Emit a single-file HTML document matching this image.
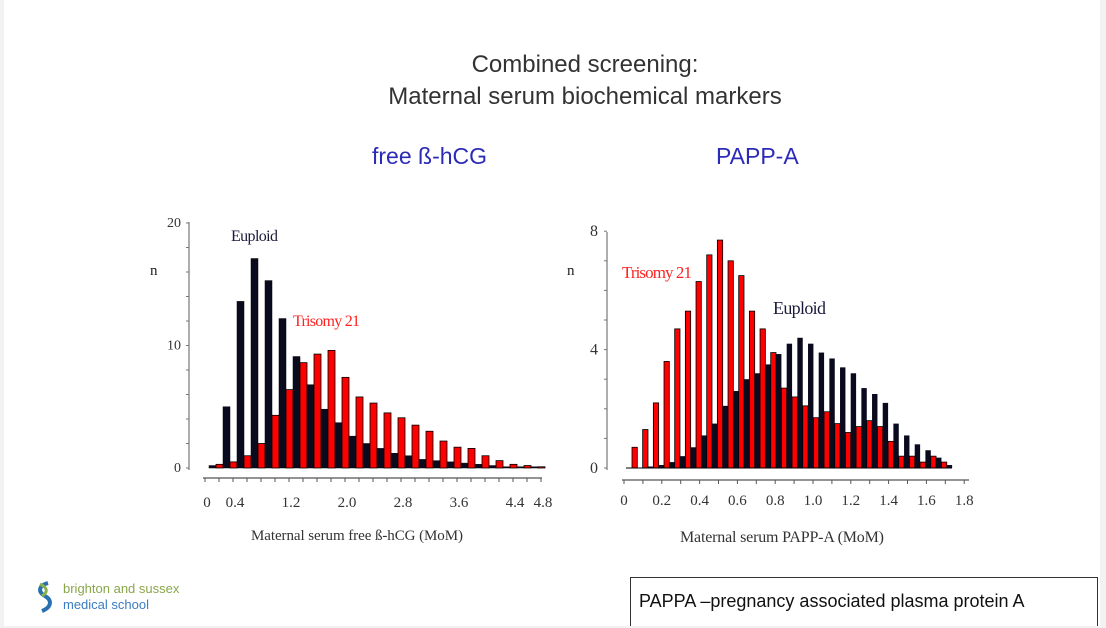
<!DOCTYPE html>
<html><head><meta charset="utf-8"><style>
html,body{margin:0;padding:0;background:#f2f2f2;}
#slide{position:absolute;left:4px;top:0;width:1096px;height:626px;background:#fff;overflow:hidden;font-family:"Liberation Sans",sans-serif;}
.t{position:absolute;white-space:nowrap;}
</style></head><body>
<div id="slide">
<div class="t" style="left:0;width:1162px;top:49px;text-align:center;font-size:24px;line-height:32px;color:#333;">Combined screening:<br>Maternal serum biochemical markers</div>
<div class="t" style="left:368px;top:143px;font-size:23px;color:#2b2bb8;">free ß-hCG</div>
<div class="t" style="left:712px;top:143px;font-size:23px;color:#2b2bb8;">PAPP-A</div>
<div class="t" style="left:30px;top:580px;">
<svg width="22" height="34" viewBox="0 0 22 34"><path d="M14 3 C4 6,4 12,11 16 C18 20,18 27,8 31" stroke="#2a6fb0" stroke-width="4" fill="none"/><path d="M6 4 C14 8,14 12,8 16" stroke="#8ab04a" stroke-width="3" fill="none"/></svg>
<span style="position:absolute;left:29px;top:1px;font-size:13px;line-height:15px;color:#8aa64a;">brighton and sussex</span>
<span style="position:absolute;left:29px;top:17px;font-size:13px;line-height:15px;color:#3a7cc0;">medical school</span>
</div>
<div class="t" style="left:626px;top:577px;width:468px;height:60px;border:1px solid #333;box-sizing:border-box;font-size:18px;padding:13px 0 0 8px;color:#111;">PAPPA –pregnancy associated plasma protein A</div>
<svg id="ch" width="1106" height="628" style="position:absolute;left:-4px;top:0"></svg>
</div>
<script>
const hcgEuploid=[0.2,5,13.6,17.1,15.3,12.2,9.1,6.8,4.8,3.7,2.6,2.0,1.6,1.2,1.0,0.7,0.6,0.5,0.4,0.3,0.2,0.1,0.1,0.1];
const hcgTrisomy=[0.3,0.5,1,2,4.3,6.4,8.6,9.3,9.6,7.4,5.8,5.3,4.5,4.1,3.5,3.0,2.2,1.7,1.6,1.0,0.6,0.3,0.2,0.1];
const hcgYTicks=[0,10,20];
const hcgXTicks=["0","0.4","1.2","2.0","2.8","3.6","4.4","4.8"];
const hcgXVals=[0,0.4,1.2,2.0,2.8,3.6,4.4,4.8];
const papTrisomy=[0.7,1.3,2.2,3.6,4.7,5.3,6.3,7.2,7.7,7.0,6.5,5.3,4.7,3.9,2.7,2.4,2.1,1.7,1.9,1.5,1.2,1.4,1.6,1.4,0.9,0.4,0.4,0.2,0.4,0.2];
const papEuploid=[0,0.05,0.1,0.2,0.4,0.7,1.1,1.5,2.1,2.6,3.0,3.2,3.5,3.85,4.2,4.4,4.2,3.9,3.7,3.4,3.2,2.7,2.5,2.2,1.5,1.1,0.8,0.6,0.35,0.1];
const papYTicks=[0,4,8];
const papXTicks=["0","0.2","0.4","0.6","0.8","1.0","1.2","1.4","1.6","1.8"];
const papXVals=[0,0.2,0.4,0.6,0.8,1.0,1.2,1.4,1.6,1.8];

const svg=document.getElementById('ch');const NS='http://www.w3.org/2000/svg';
function mk(tag,attrs,txt){const e=document.createElementNS(NS,tag);for(const k in attrs)e.setAttribute(k,attrs[k]);if(txt!==undefined)e.textContent=txt;svg.appendChild(e);return e;}
const FF='"Liberation Serif",serif';
// chart 1
const y1=v=>468-v*12.25;
const x1=v=>205+v*70;
let ax=mk('line',{x1:189,y1:222,x2:189,y2:470,stroke:'#777','stroke-width':1.2});

for(let v=0;v<=20;v+=2){let t=mk('line',{x1:186,x2:189,y1:y1(v),y2:y1(v),stroke:'#777'});}
hcgYTicks.forEach(v=>{let t=mk('text',{x:181,y:y1(v)+4,'text-anchor':'end','font-size':14,'font-family':FF,fill:'#333'},v);});
hcgEuploid.forEach((v,i)=>{const bx=209+i*14;
let b=mk('rect',{x:bx,y:y1(v),width:7,height:468-y1(v),fill:'#0a0a1e',stroke:'#000','stroke-width':0.5});
let r=mk('rect',{x:bx+7,y:y1(hcgTrisomy[i]),width:7,height:468-y1(hcgTrisomy[i]),fill:'#f00',stroke:'#000','stroke-width':0.8});});
let xa=mk('line',{x1:203,x2:542,y1:478,y2:478,stroke:'#555','stroke-width':1.2});
for(let v=0;v<=4.81;v+=0.2){let t=mk('line',{x1:x1(v),x2:x1(v),y1:478,y2:482,stroke:'#555'});}
hcgXTicks.forEach((s,i)=>{let t=mk('text',{x:x1(hcgXVals[i])+2,y:507,'text-anchor':'middle','font-size':15,'font-family':FF,fill:'#333'},s);});
let n1=mk('text',{x:150,y:275,fill:'#222','font-size':15,'font-family':FF},'n');
let e1=mk('text',{x:231,y:241,fill:'#1a1a3a','font-size':16,'font-family':FF,textLength:47},'Euploid');
let t1=mk('text',{x:293,y:326,fill:'#f22','font-size':16,'font-family':FF,textLength:67},'Trisomy 21');
let xt=mk('text',{x:357,y:540,'text-anchor':'middle','font-size':15,'font-family':FF,fill:'#333',textLength:212},'Maternal serum free ß-hCG (MoM)');
// chart 2
const y2=v=>468-v*29.6;
const x2=v=>624+v*189;
let ay=mk('line',{x1:607,y1:232,x2:607,y2:470,stroke:'#777','stroke-width':1.2});
for(let v=0;v<=8;v+=1){let t=mk('line',{x1:604,x2:607,y1:y2(v),y2:y2(v),stroke:'#777'});}
papYTicks.forEach(v=>{let t=mk('text',{x:598,y:y2(v)+5,'text-anchor':'end','font-size':16,'font-family':FF,fill:'#333'},v);});
papTrisomy.forEach((v,i)=>{const bx=632+i*10.67;
let r=mk('rect',{x:bx,y:y2(v),width:5.3,height:468-y2(v),fill:'#f00',stroke:'#000','stroke-width':0.8});
let b=mk('rect',{x:bx+5.3,y:y2(papEuploid[i]),width:5.4,height:468-y2(papEuploid[i]),fill:'#0a0a1e'});});
let bl=mk('line',{x1:626,x2:952,y1:468,y2:468,stroke:'#000','stroke-width':1});
let xb=mk('line',{x1:622,x2:969,y1:480,y2:480,stroke:'#555','stroke-width':1.2});
for(let v=0;v<=1.81;v+=0.1){let t=mk('line',{x1:x2(v),x2:x2(v),y1:480,y2:484,stroke:'#555'});}
papXTicks.forEach((s,i)=>{let t=mk('text',{x:x2(papXVals[i]),y:505,'text-anchor':'middle','font-size':15,'font-family':FF,fill:'#333'},s);});
let n2=mk('text',{x:567,y:275,'font-size':15,'font-family':FF,fill:'#222'},'n');
let tl=mk('text',{x:622,y:278,'font-size':17,'font-family':FF,fill:'#f22',textLength:70},'Trisomy 21');
let el=mk('text',{x:773,y:314,'font-size':18,'font-family':FF,fill:'#1a1a3a',textLength:53},'Euploid');
let xt2=mk('text',{x:782,y:542,'text-anchor':'middle','font-size':16,'font-family':FF,fill:'#333',textLength:204},'Maternal serum PAPP-A (MoM)');
</script>
</body></html>
